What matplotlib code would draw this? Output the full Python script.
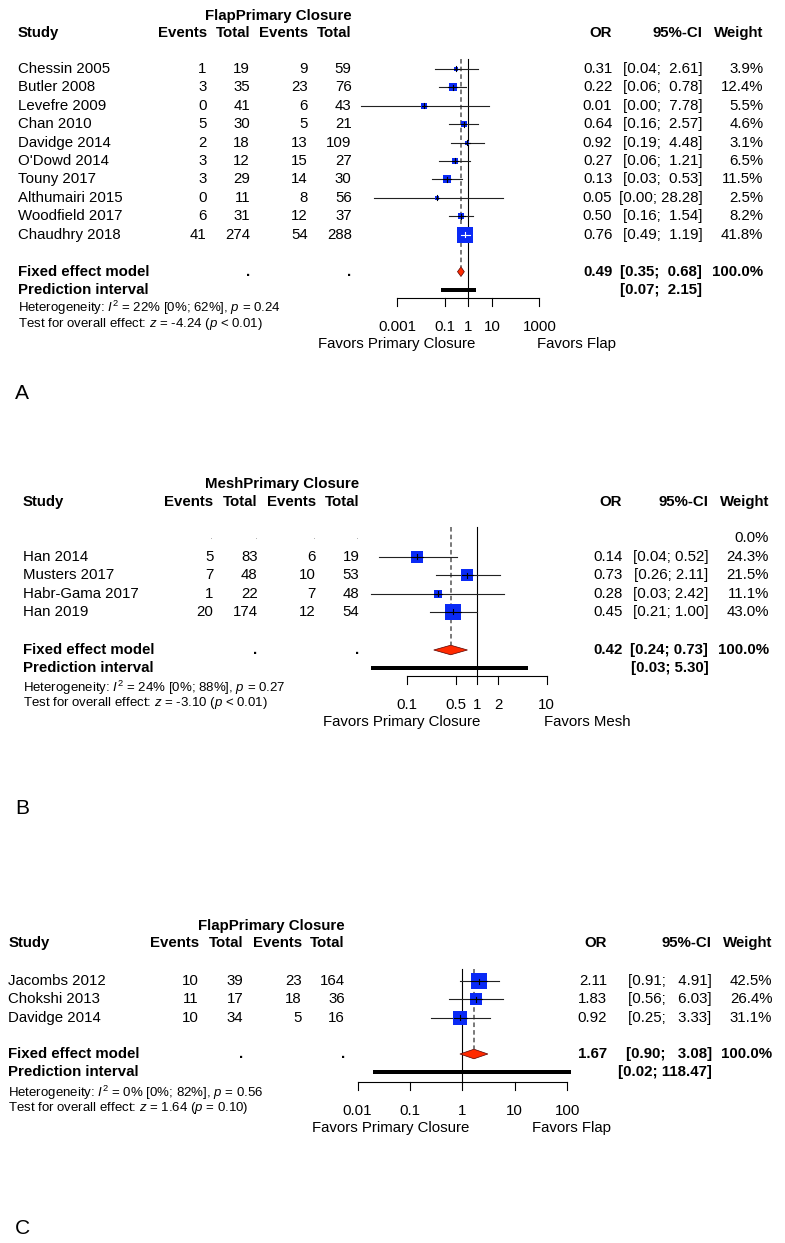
import matplotlib
matplotlib.use("Agg")
import matplotlib.pyplot as plt
import numpy as np

plt.rcParams['font.family'] = ['Liberation Sans', 'DejaVu Sans']
plt.rcParams['mathtext.fontset'] = 'custom'
plt.rcParams['mathtext.rm'] = 'Liberation Sans'
plt.rcParams['mathtext.it'] = 'Liberation Sans:italic'

W, H, DPI = 785, 1243, 100
PX = 72.0 / DPI          # points per pixel
FS = 15 * PX             # main text size
FS_HET = 13.3 * PX       # heterogeneity lines
BLUE = '#0a2af5'
RED = '#ff2a00'

# ---------------- Panel A: Flap vs Primary Closure ----------------
a_studies = ['Chessin 2005', 'Butler 2008', 'Levefre 2009', 'Chan 2010', 'Davidge 2014',
             "O'Dowd 2014", 'Touny 2017', 'Althumairi 2015', 'Woodfield 2017', 'Chaudhry 2018']
a_ev1 = [1, 3, 0, 5, 2, 3, 3, 0, 6, 41]
a_tot1 = [19, 35, 41, 30, 18, 12, 29, 11, 31, 274]
a_ev2 = [9, 23, 6, 5, 13, 15, 14, 8, 12, 54]
a_tot2 = [59, 76, 43, 21, 109, 27, 30, 56, 37, 288]
a_or = [0.31, 0.22, 0.014, 0.64, 0.92, 0.27, 0.13, 0.05, 0.50, 0.76]
a_lo = [0.04, 0.06, 0.00003, 0.16, 0.19, 0.06, 0.03, 0.0001, 0.16, 0.49]
a_hi = [2.61, 0.78, 7.78, 2.57, 4.48, 1.21, 0.53, 28.28, 1.54, 1.19]
a_wt = [3.9, 12.4, 5.5, 4.6, 3.1, 6.5, 11.5, 2.5, 8.2, 41.8]
a_fixed = [0.49, 0.35, 0.68]
a_pred = [0.07, 2.15]
a_ticks = [0.001, 0.1, 1, 10, 1000]
a_ticklabels = ['0.001', '0.1', '1', '10', '1000']
a_het = r'Heterogeneity: $I^2$ = 22% [0%; 62%], $p$ = 0.24'
a_test = r'Test for overall effect: $z$ = -4.24 ($p$ < 0.01)'
a_group = 'FlapPrimary Closure'
a_favors = ['Favors Primary Closure', 'Favors Flap']

# ---------------- Panel B: Mesh vs Primary Closure ----------------
b_studies = ['', 'Han 2014', 'Musters 2017', 'Habr-Gama 2017', 'Han 2019']
b_ev1 = [None, 5, 7, 1, 20]
b_tot1 = [None, 83, 48, 22, 174]
b_ev2 = [None, 6, 10, 7, 12]
b_tot2 = [None, 19, 53, 48, 54]
b_or = [None, 0.14, 0.73, 0.28, 0.45]
b_lo = [None, 0.04, 0.26, 0.03, 0.21]
b_hi = [None, 0.52, 2.11, 2.42, 1.00]
b_wt = [0.0, 24.3, 21.5, 11.1, 43.0]
b_fixed = [0.42, 0.24, 0.73]
b_pred = [0.03, 5.30]
b_ticks = [0.1, 0.5, 1, 2, 10]
b_ticklabels = ['0.1', '0.5', '1', '2', '10']
b_het = r'Heterogeneity: $I^2$ = 24% [0%; 88%], $p$ = 0.27'
b_test = r'Test for overall effect: $z$ = -3.10 ($p$ < 0.01)'
b_group = 'MeshPrimary Closure'
b_favors = ['Favors Primary Closure', 'Favors Mesh']

# ---------------- Panel C: Flap vs Primary Closure ----------------
c_studies = ['Jacombs 2012', 'Chokshi 2013', 'Davidge 2014']
c_ev1 = [10, 11, 10]
c_tot1 = [39, 17, 34]
c_ev2 = [23, 18, 5]
c_tot2 = [164, 36, 16]
c_or = [2.11, 1.83, 0.92]
c_lo = [0.91, 0.56, 0.25]
c_hi = [4.91, 6.03, 3.33]
c_wt = [42.5, 26.4, 31.1]
c_fixed = [1.67, 0.90, 3.08]
c_pred = [0.02, 118.47]
c_ticks = [0.01, 0.1, 1, 10, 100]
c_ticklabels = ['0.01', '0.1', '1', '10', '100']
c_het = r'Heterogeneity: $I^2$ = 0% [0%; 82%], $p$ = 0.56'
c_test = r'Test for overall effect: $z$ = 1.64 ($p$ = 0.10)'
c_group = 'FlapPrimary Closure'
c_favors = ['Favors Primary Closure', 'Favors Flap']

fig = plt.figure(figsize=(W / DPI, H / DPI), dpi=DPI)
canvas = fig.add_axes([0, 0, 1, 1])
canvas.set_xlim(0, W)
canvas.set_ylim(H, 0)
canvas.axis('off')


def txt(x, y, s, ha='left', bold=False, size=FS, color='black'):
    canvas.text(x, y, s, ha=ha, va='center', fontsize=size, color=color,
                fontweight='bold' if bold else 'normal')


def fmt_ci(lo, hi, width):
    return '[%.2f; %s]' % (lo, ('%.2f' % hi).rjust(width))


def draw_panel(g, studies, ev1, tot1, ev2, tot2, ors, los, his, wts, fixed, pred,
               ticks, ticklabels, het, test, group, favors):
    cx = g['cols']
    y0, step = g['row0'], 18.4
    rows = [y0 + i * step for i in range(len(studies))]
    y_fix, y_pred = g['fixed_y'], g['fixed_y'] + 18.4

    # headers
    txt(cx[4], g['hdr'] - 17.5, group, ha='right', bold=True)
    txt(cx[0], g['hdr'], 'Study', bold=True)
    for x, s in zip(cx[1:5], ['Events', 'Total', 'Events', 'Total']):
        txt(x, g['hdr'], s, ha='right', bold=True)
    for x, s in zip(cx[5:8], ['OR', '95%-CI', 'Weight']):
        txt(x, g['hdr'], s, ha='right', bold=True)

    his_all = [h for h in his if h is not None] + [fixed[2], pred[1]]
    width = max(len('%.2f' % h) for h in his_all)

    for i, y in enumerate(rows):
        txt(cx[0], y, studies[i])
        for x, v in zip(cx[1:5], [ev1[i], tot1[i], ev2[i], tot2[i]]):
            if v is None:
                txt(x, y - 2, '.', ha='right', size=FS * 0.7, color='#999999')
            else:
                txt(x, y, str(v), ha='right')
        if ors[i] is not None:
            txt(cx[5], y, '%.2f' % ors[i], ha='right')
            txt(cx[6], y, fmt_ci(los[i], his[i], width), ha='right')
        txt(cx[7], y, '%.1f%%' % wts[i], ha='right')

    txt(cx[0], y_fix, 'Fixed effect model', bold=True)
    txt(cx[2], y_fix, '.', ha='right', bold=True)
    txt(cx[4], y_fix, '.', ha='right', bold=True)
    txt(cx[5], y_fix, '%.2f' % fixed[0], ha='right', bold=True)
    txt(cx[6], y_fix, fmt_ci(fixed[1], fixed[2], width), ha='right', bold=True)
    txt(cx[7], y_fix, '100.0%', ha='right', bold=True)
    txt(cx[0], y_pred, 'Prediction interval', bold=True)
    txt(cx[6], y_pred, fmt_ci(pred[0], pred[1], width), ha='right', bold=True)
    txt(cx[0], g['het_y'], het, size=FS_HET)
    txt(cx[0], g['het_y'] + 15.5, test, size=FS_HET)

    # forest area, y in pixels, x on log scale
    x1, ppd = g['x1'], g['ppd']
    L, R, T, B = g['box']
    ax = fig.add_axes([L / W, 1 - B / H, (R - L) / W, (B - T) / H])
    ax.set_xscale('log')
    ax.set_xlim(10 ** ((L - x1) / ppd), 10 ** ((R - x1) / ppd))
    ax.set_ylim(B, T)
    ax.axis('off')
    ax.patch.set_alpha(0)

    top, y_axis = g['top'], g['axis_y']
    ax.plot([1, 1], [top, y_axis], color='black', lw=0.8, zorder=2)
    dh = 4.8
    ax.plot([fixed[0]] * 2, [top, y_fix - dh], color='#555555', lw=1.1,
            ls=(0, (3, 2)), zorder=2)

    wmax = max(wts)
    for i, y in enumerate(rows):
        if ors[i] is None:
            continue
        side = 15.7 * np.sqrt(wts[i] / wmax)
        ax.plot([los[i], his[i]], [y, y], color='#222222', lw=0.8, zorder=3)
        ax.plot(ors[i], y, marker='s', ms=side * PX, mfc=BLUE, mec=BLUE, mew=0, zorder=4)
        # CI inside the square is drawn in white
        d_lo = (np.log10(ors[i]) - np.log10(los[i])) * ppd
        d_hi = (np.log10(his[i]) - np.log10(ors[i])) * ppd
        inside = max(d_lo, d_hi) < side / 2
        c = 'white' if inside else 'black'
        if inside:
            ax.plot([los[i], his[i]], [y, y], color=c, lw=0.8, zorder=5)
        else:
            half = 10 ** (side / 2 / ppd)
            ax.plot([ors[i] / half, ors[i] * half], [y, y], color=c, lw=0.8, zorder=5)
        ax.plot([ors[i], ors[i]], [y - 2.5, y + 2.5], color=c, lw=0.8, zorder=5)

    est, lo, hi = fixed
    ax.fill([lo, est, hi, est], [y_fix, y_fix - dh, y_fix, y_fix + dh],
            facecolor=RED, edgecolor='#550000', lw=0.5, zorder=4)
    ax.plot(pred, [y_pred, y_pred], color='black', lw=4 * PX,
            solid_capstyle='butt', zorder=4)

    ax.plot([ticks[0], ticks[-1]], [y_axis, y_axis], color='black', lw=0.8,
            solid_capstyle='projecting')
    for t, lab in zip(ticks, ticklabels):
        ax.plot([t, t], [y_axis, y_axis + 8], color='black', lw=0.8)
        ax.text(t, y_axis + 29, lab, ha='center', va='center', fontsize=FS, clip_on=False)

    txt(g['fav'][0], y_axis + 46.5, favors[0], ha='right')
    txt(g['fav'][1], y_axis + 46.5, favors[1], ha='left')

    txt(15, g['label_y'], g['label'], size=21 * PX)


geo_a = dict(cols=[17.7, 206.7, 250, 308, 351.7, 612.3, 702.3, 763.3],
             hdr=33, row0=69, fixed_y=271.7, het_y=308, x1=468.3, ppd=23.7,
             box=(350, 565, 50, 310), top=59, axis_y=297.7, fav=(475, 537.3),
             label='A', label_y=393)
geo_b = dict(cols=[22.7, 213.3, 257.7, 316, 359.3, 622.3, 708.3, 769],
             hdr=501.7, row0=538.3, fixed_y=650, het_y=687.7, x1=477, ppd=69.8,
             box=(350, 565, 515, 690), top=527.3, axis_y=675.7, fav=(480, 543.7),
             label='B', label_y=808)
geo_c = dict(cols=[8.3, 199, 243.3, 301.7, 345, 607.3, 711.7, 772.3],
             hdr=943.3, row0=981, fixed_y=1054, het_y=1092.7, x1=462.3, ppd=52.4,
             box=(335, 590, 960, 1095), top=969.3, axis_y=1081.7, fav=(469, 532.3),
             label='C', label_y=1228)

draw_panel(geo_a, a_studies, a_ev1, a_tot1, a_ev2, a_tot2, a_or, a_lo, a_hi, a_wt,
           a_fixed, a_pred, a_ticks, a_ticklabels, a_het, a_test, a_group, a_favors)
draw_panel(geo_b, b_studies, b_ev1, b_tot1, b_ev2, b_tot2, b_or, b_lo, b_hi, b_wt,
           b_fixed, b_pred, b_ticks, b_ticklabels, b_het, b_test, b_group, b_favors)
draw_panel(geo_c, c_studies, c_ev1, c_tot1, c_ev2, c_tot2, c_or, c_lo, c_hi, c_wt,
           c_fixed, c_pred, c_ticks, c_ticklabels, c_het, c_test, c_group, c_favors)

fig.savefig('out.png', dpi=DPI)
